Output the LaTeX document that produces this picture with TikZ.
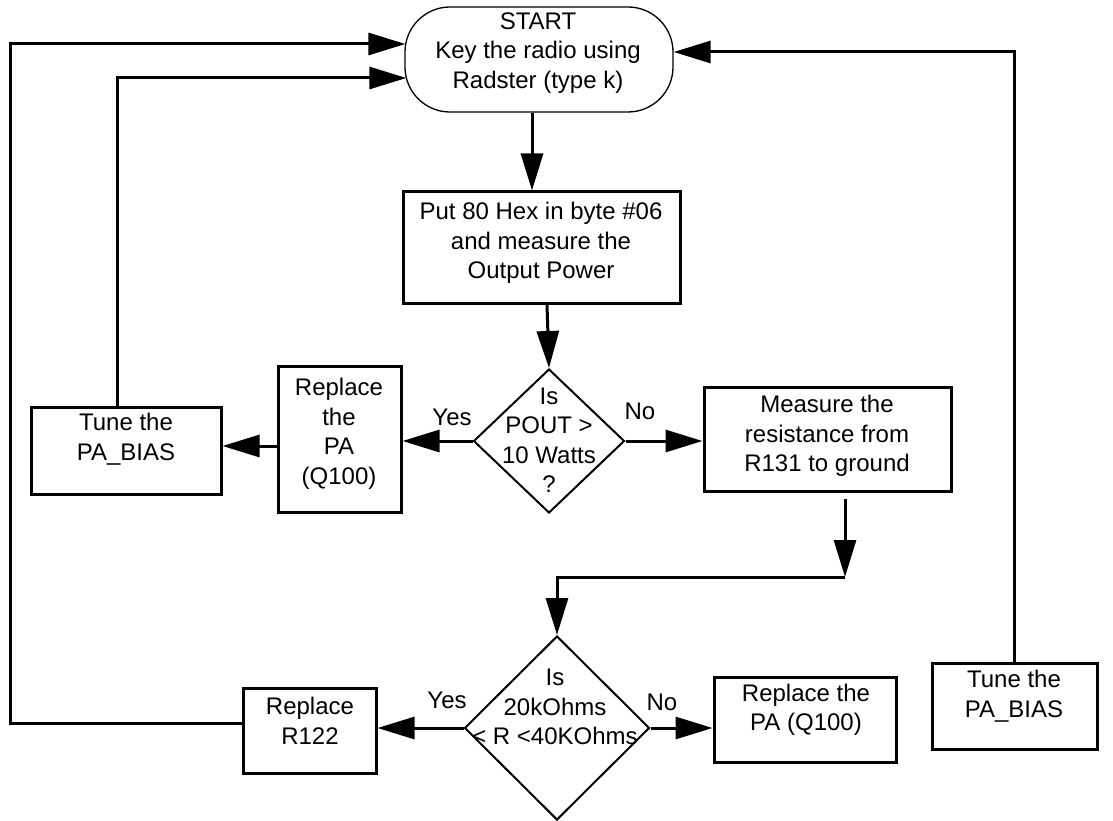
\documentclass[tikz,border=0pt]{standalone}
\usepackage{fontspec}
\setmainfont{Liberation Sans}
\usetikzlibrary{arrows.meta,shapes.geometric,calc}
\newcommand{\fsz}{\fontsize{24}{29.5}\selectfont}
\tikzset{
  boxn/.style={draw, line width=3pt, inner sep=0pt},
  termn/.style={draw, line width=1.3pt, rounded corners=45pt, inner sep=0pt},
  decn/.style={draw, shape=diamond, line width=2pt, inner sep=0pt},
  txt/.style={align=center, font=\fsz, inner sep=0pt},
  lbl/.style={font=\fsz, inner sep=0pt},
  conn/.style={line width=3pt},
  arr/.style={line width=3pt, -{Triangle[length=37pt,width=22pt]}},
}
\begin{document}
\begin{tikzpicture}[x=1pt,y=-1pt]
\useasboundingbox (0,0) rectangle (1113,821);
% shapes
\node[termn, minimum width=268pt, minimum height=105pt] (start) at (539,59.5) {};
\node[boxn, minimum width=277pt, minimum height=111pt] (b1) at (541.5,247.5) {};
\node[decn, minimum width=151pt, minimum height=144pt] (d1) at (549,441) {};
\node[boxn, minimum width=123pt, minimum height=146pt] (rpa1) at (339.5,439) {};
\node[boxn, minimum width=190pt, minimum height=87pt] (tune1) at (126,450.5) {};
\node[boxn, minimum width=247pt, minimum height=104pt] (meas) at (827.5,439) {};
\node[decn, minimum width=185pt, minimum height=184pt] (d2) at (557,728) {};
\node[boxn, minimum width=133pt, minimum height=85pt] (r122) at (309.5,730.5) {};
\node[boxn, minimum width=182pt, minimum height=85pt] (rpa2) at (805,719.5) {};
\node[boxn, minimum width=165pt, minimum height=86pt] (tune2) at (1014.5,706) {};
% texts
\node[txt] (tstart) at (538,53) {START\\Key the radio using\\Radster (type k)};
\node[txt] (tb1) at (541,243) {Put 80 Hex in byte \#06\\and measure the\\Output Power};
\node[txt] (td1) at (549,440) {Is\\POUT >\\10 Watts\\?};
\node[txt] (trpa1) at (339,434) {Replace\\the\\PA\\(Q100)};
\node[txt] (ttune1) at (126,439) {Tune the\\PA\_BIAS};
\node[txt] (tmeas) at (827,436) {Measure the\\resistance from\\R131 to ground};
\node[txt] (td2) at (555,707) {Is\\20kOhms\\< R <40KOhms};
\node[txt] (tr122) at (310,721) {Replace\\R122};
\node[txt] (trpa2) at (806,710) {Replace the\\PA (Q100)};
\node[txt] (ttune2) at (1014,696) {Tune the\\PA\_BIAS};
\node[lbl] (yes1) at (452,417) {Yes};
\node[lbl] (no1) at (640,411) {No};
\node[lbl] (yes2) at (447,700) {Yes};
\node[lbl] (no2) at (662,702) {No};
% connectors
\coordinate (cornerA) at (10,44);
\coordinate (jn) at (845,577);
\draw[arr] ($(start.south)+(-7,0)$) -- ($(b1.north)+(-9.5,0)$);
\draw[arr] ($(b1.south)+(5.5,0)$) -- (d1.north);
\draw[arr] (d1.west) -- (d1.west -| rpa1.east);
\draw[arr] ($(rpa1.west)+(0,7)$) -- ($(tune1.east)+(0,-4.5)$);
\draw[arr] ($(tune1.north)+(-9,0)$) |- ($(start.west)+(2,18.5)$);
\draw[arr] (d1.east) -- (d1.east -| meas.west);
\draw[arr] ($(meas.south)+(17.5,6)$) -- (jn);
\draw[arr] (jn) -| (d2.north);
\draw[arr] (d2.west) -- (d2.west -| r122.east);
\draw[arr] (d2.east) -- (d2.east -| rpa2.west);
\draw[arr] ($(r122.west)+(0,-7.5)$) -| (cornerA) -- ($(start.west)+(1,-15.5)$);
\draw[arr] (tune2.north) |- ($(start.east)+(0,-7.5)$);
\end{tikzpicture}
\end{document}
